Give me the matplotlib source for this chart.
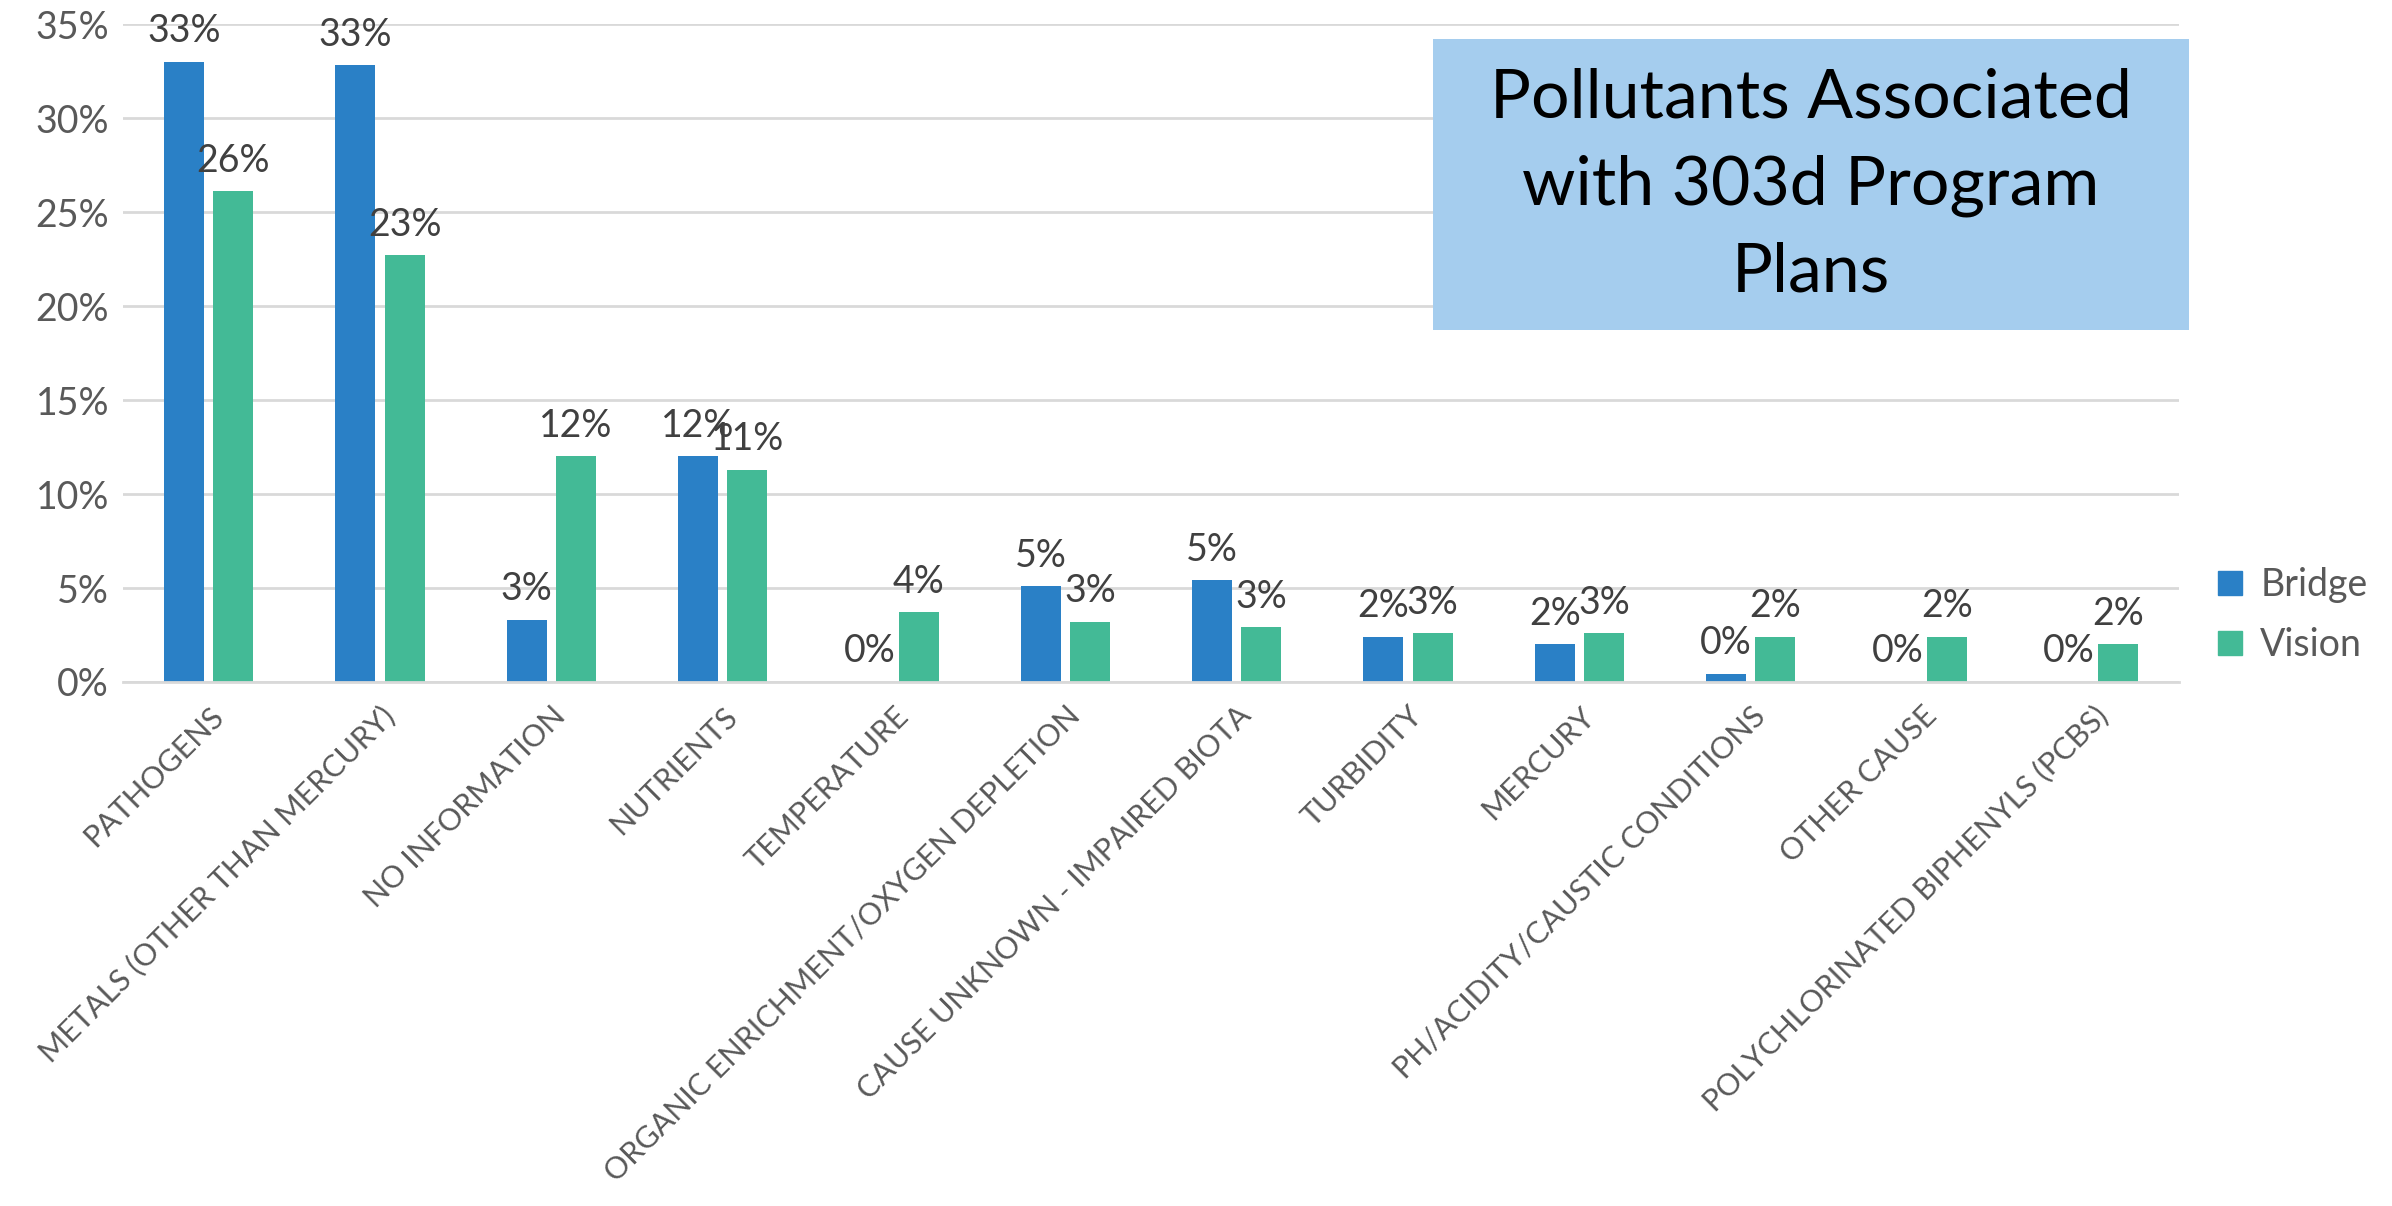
import matplotlib.pyplot as plt
from matplotlib.patches import Rectangle
from matplotlib.lines import Line2D
import numpy as np

plt.rcParams['font.family'] = ['Lato', 'DejaVu Sans']

categories = ["PATHOGENS", "METALS (OTHER THAN MERCURY)", "NO INFORMATION",
              "NUTRIENTS", "TEMPERATURE", "ORGANIC ENRICHMENT/OXYGEN DEPLETION",
              "CAUSE UNKNOWN - IMPAIRED BIOTA", "TURBIDITY", "MERCURY",
              "PH/ACIDITY/CAUSTIC CONDITIONS", "OTHER CAUSE",
              "POLYCHLORINATED BIPHENYLS (PCBS)"]
bridge = [33.0, 32.8, 3.3, 12.0, 0.0, 5.1, 5.4, 2.4, 2.0, 0.45, 0.0, 0.0]
vision = [26.1, 22.7, 12.0, 11.3, 3.7, 3.2, 2.9, 2.6, 2.6, 2.4, 2.4, 2.0]
yticks = [0, 5, 10, 15, 20, 25, 30, 35]

blue = "#2A80C6"
green = "#43BA96"
grey = "#595959"

fig = plt.figure(figsize=(23.92, 12.06), dpi=100)
ax = fig.add_axes([0.0514, 0.4345, 0.8596, 0.5455])

x = np.arange(len(categories))
w = 0.234
off = 0.144
b1 = ax.bar(x - off, bridge, w, color=blue)
b2 = ax.bar(x + off, vision, w, color=green)

for bars, vals in ((b1, bridge), (b2, vision)):
    for rect, v in zip(bars, vals):
        ax.annotate(f"{round(v):.0f}%", (rect.get_x() + rect.get_width() / 2, v),
                    xytext=(0, 9), textcoords="offset points",
                    ha="center", va="bottom", fontsize=27, color="#404040")

ax.set_xlim(-0.5, len(categories) - 0.5)
ax.set_ylim(0, 35)
ax.set_yticks(yticks)
ax.set_yticklabels([f"{t}%" for t in yticks], fontsize=27, color=grey)
ax.set_xticks(x)
ax.set_xticklabels(categories, rotation=45, ha="right", va="top",
                   rotation_mode="anchor", fontsize=22, color=grey)
ax.tick_params(length=0, pad=10)
ax.tick_params(axis="x", pad=14)
ax.yaxis.grid(True, color="#D9D9D9", lw=2)
ax.set_axisbelow(True)
for s in ("top", "right", "left"):
    ax.spines[s].set_visible(False)
ax.spines["bottom"].set_color("#D9D9D9")
ax.spines["bottom"].set_linewidth(2)

# title box
fig.patches.append(Rectangle((0.599, 0.726), 0.316, 0.242, transform=fig.transFigure,
                             facecolor="#A5CDEE", edgecolor="none", zorder=5))
fig.text(0.757, 0.846, "Pollutants Associated\nwith 303d Program\nPlans",
         ha="center", va="center", fontsize=49, linespacing=1.5, zorder=6)

handles = [Line2D([], [], marker="s", ls="none", color=blue, markersize=17),
           Line2D([], [], marker="s", ls="none", color=green, markersize=17)]
fig.legend(handles, ["Bridge", "Vision"], loc="center left",
           bbox_to_anchor=(0.912, 0.49), frameon=False, fontsize=27,
           labelcolor=grey, handlelength=0.8, handletextpad=0.4, labelspacing=0.65)

fig.savefig("out.png", dpi=100)
